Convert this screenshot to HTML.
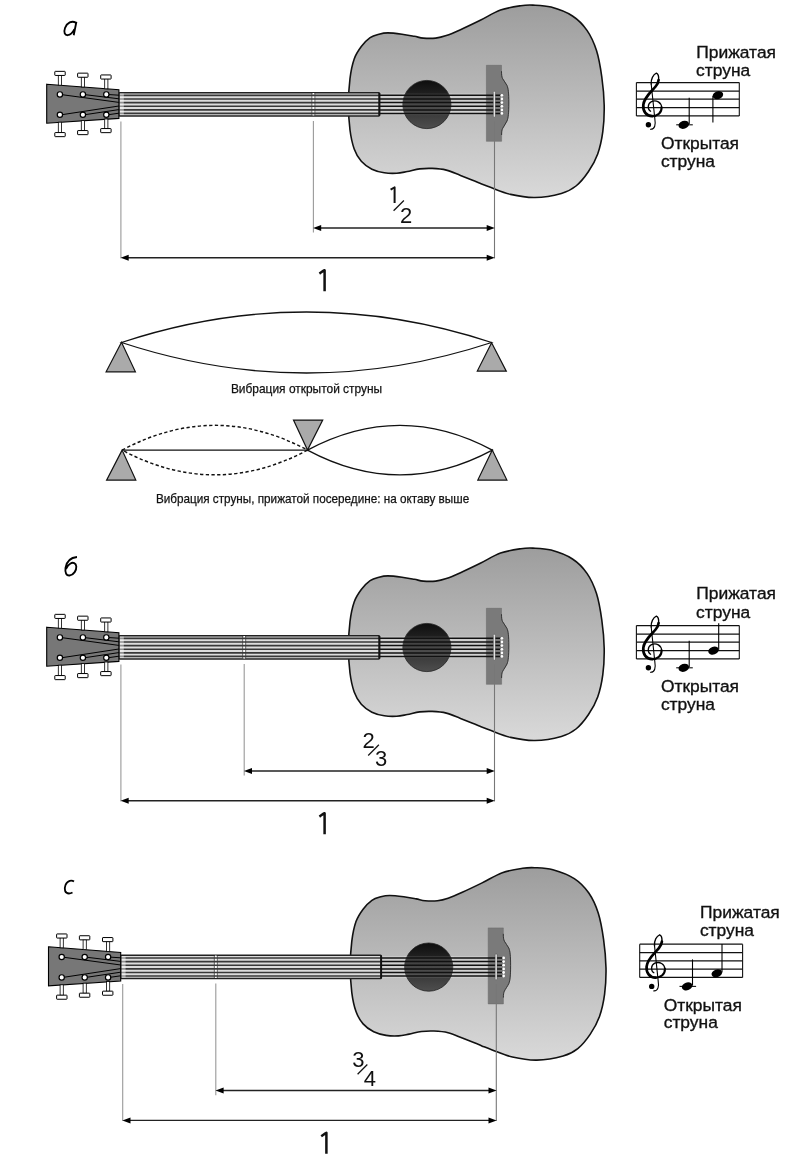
<!DOCTYPE html>
<html><head><meta charset="utf-8"><style>html,body{margin:0;padding:0;background:#fff;width:790px;height:1176px;overflow:hidden}</style></head>
<body>
<svg width="790" height="1176" viewBox="0 0 790 1176" style="display:block;will-change:transform" font-family="'Liberation Sans', sans-serif" fill="#111">
<defs>
<linearGradient id="bodyg" x1="0" y1="0" x2="0" y2="1">
<stop offset="0" stop-color="#9d9d9d"/><stop offset="1" stop-color="#d9d9d9"/>
</linearGradient>
<linearGradient id="holeg" x1="0" y1="0" x2="0" y2="1">
<stop offset="0" stop-color="#0e0e0e"/><stop offset="1" stop-color="#4e4e4e"/>
</linearGradient>
</defs>
<rect width="790" height="1176" fill="#fff"/>
<path d="M75.8 22.6 C72 20.5 67 22.5 65 28 C63.5 32.5 64.8 35.3 67.8 35.2 C70.5 35.1 72.8 32.5 74.4 29.2 M76.4 21.8 L73.7 35.2" fill="none" stroke="#000" stroke-width="1.85"/>
<path d="M77 557 C70 557.5 66.5 562 65.5 568 C64.8 573 66.5 575.8 69.5 575.5 C74 575 76.5 570 76.3 566.5 C76 563 73 562 70.5 563.5 C68 565 66.5 567 66 569" fill="none" stroke="#000" stroke-width="1.85"/>
<path d="M74 881.5 C72 880 67.5 880 65.5 885 C63.8 889.5 65 893.5 69 893.5 C70.5 893.5 71.5 893 72.5 892.5" fill="none" stroke="#000" stroke-width="1.85"/>
<g transform="translate(0 0)">
<path d="M 348.50 104.20 C 348.50 95.62 349.05 86.03 350.00 78.50 C 350.95 70.97 352.32 64.32 354.20 59.00 C 356.08 53.68 358.65 50.15 361.30 46.60 C 363.95 43.05 367.15 39.77 370.10 37.70 C 373.05 35.63 376.05 35.00 379.00 34.20 C 381.95 33.40 383.97 32.90 387.80 32.90 C 391.63 32.90 397.57 33.63 402.00 34.20 C 406.43 34.77 410.85 35.65 414.40 36.30 C 417.95 36.95 419.75 37.80 423.30 38.10 C 426.85 38.40 431.87 38.52 435.70 38.10 C 439.53 37.68 442.17 37.00 446.30 35.60 C 450.43 34.20 454.83 32.25 460.50 29.70 C 466.17 27.15 473.63 23.57 480.30 20.30 C 486.97 17.03 493.75 12.53 500.50 10.10 C 507.25 7.67 515.40 6.53 520.80 5.70 C 526.20 4.87 527.85 4.87 532.90 5.10 C 537.95 5.33 544.50 5.28 551.10 7.10 C 557.70 8.92 566.52 12.12 572.50 16.00 C 578.48 19.88 583.00 24.63 587.00 30.40 C 591.00 36.17 594.03 42.83 596.50 50.60 C 598.97 58.37 600.52 67.88 601.80 77.00 C 603.08 86.12 604.03 96.20 604.20 105.30 C 604.37 114.40 603.88 123.50 602.80 131.60 C 601.72 139.70 600.08 147.25 597.70 153.90 C 595.32 160.55 592.12 166.15 588.50 171.50 C 584.88 176.85 580.53 182.35 576.00 186.00 C 571.47 189.65 568.13 191.48 561.30 193.40 C 554.47 195.32 543.45 197.33 535.00 197.50 C 526.55 197.67 518.03 196.10 510.60 194.40 C 503.17 192.70 495.50 189.15 490.40 187.30 C 485.30 185.45 484.98 185.28 480.00 183.30 C 475.02 181.32 466.12 177.60 460.50 175.40 C 454.88 173.20 451.03 171.27 446.30 170.10 C 441.57 168.93 436.53 168.60 432.10 168.40 C 427.67 168.20 423.83 168.38 419.70 168.90 C 415.57 169.42 411.13 170.77 407.30 171.50 C 403.47 172.23 400.53 173.08 396.70 173.30 C 392.87 173.52 388.43 173.48 384.30 172.80 C 380.17 172.12 375.73 171.12 371.90 169.20 C 368.07 167.28 364.25 164.68 361.30 161.30 C 358.35 157.92 356.08 154.12 354.20 148.90 C 352.32 143.68 350.95 137.45 350.00 130.00 C 349.05 122.55 348.50 112.78 348.50 104.20 Z" fill="url(#bodyg)" stroke="#111" stroke-width="1.6"/>
<rect x="379" y="93.6" width="107.4" height="21.5" fill="#fff" fill-opacity="0.3"/>
<circle cx="426.9" cy="104.5" r="24.1" fill="url(#holeg)" stroke="#222" stroke-width="0.8"/>
<rect x="402" y="93.6" width="50" height="21.5" fill="#fff" fill-opacity="0.12"/>
<path d="M486.4 65.3 H501.5 V71.2 C501.5 75 501.8 77 502.6 78.6 C503.6 80.6 505.8 83 507 85.5 C508.3 88.5 508.8 93 508.8 103 C508.8 113 508.3 117.8 507 121 C505.8 123.5 503.6 126.5 502.6 128.5 C501.8 130 501.6 132 501.6 135 V141.3 H486.4 Z" fill="#7a7a7a" stroke="#666" stroke-width="0.5"/>
<path d="M501.5 71.2 C501.5 75 501.8 77 502.6 78.6 C503.6 80.6 505.8 83 507 85.5 C508.3 88.5 508.8 93 508.8 103 C508.8 113 508.3 117.8 507 121 C505.8 123.5 503.6 126.5 502.6 128.5 C501.8 130 501.6 132 501.6 135" fill="none" stroke="#222" stroke-width="0.8"/>
<line x1="379" y1="95.35" x2="501.7" y2="95.35" stroke="#111" stroke-width="1.5"/>
<line x1="379" y1="99.0" x2="501.7" y2="99.0" stroke="#111" stroke-width="1.5"/>
<line x1="379" y1="102.6" x2="501.7" y2="102.6" stroke="#111" stroke-width="1.5"/>
<line x1="379" y1="106.3" x2="501.7" y2="106.3" stroke="#111" stroke-width="1.5"/>
<line x1="379" y1="109.9" x2="501.7" y2="109.9" stroke="#111" stroke-width="1.5"/>
<line x1="379" y1="113.4" x2="501.7" y2="113.4" stroke="#111" stroke-width="1.5"/>
<rect x="493.4" y="91.3" width="1.8" height="25.9" rx="0.9" fill="#fff" stroke="#444" stroke-width="0.5"/>
<circle cx="501.8" cy="95.35" r="1.4" fill="#fff"/>
<circle cx="501.8" cy="99.0" r="1.4" fill="#fff"/>
<circle cx="501.8" cy="102.6" r="1.4" fill="#fff"/>
<circle cx="501.8" cy="106.3" r="1.4" fill="#fff"/>
<circle cx="501.8" cy="109.9" r="1.4" fill="#fff"/>
<circle cx="501.8" cy="113.4" r="1.4" fill="#fff"/>
<rect x="118.9" y="92.75" width="260.6" height="23.15" rx="0.8" fill="#dcdcdc" stroke="#222" stroke-width="1.5"/>
<line x1="311.9" y1="93" x2="311.9" y2="115.4" stroke="#333" stroke-width="0.7"/>
<line x1="314.9" y1="93" x2="314.9" y2="115.4" stroke="#333" stroke-width="0.7"/>
<line x1="313.4" y1="93" x2="313.4" y2="115.4" stroke="#fff" stroke-width="1.6"/>
<line x1="118.9" y1="95.35" x2="379.5" y2="95.35" stroke="#383838" stroke-width="1.6"/>
<line x1="118.9" y1="99.0" x2="379.5" y2="99.0" stroke="#383838" stroke-width="1.6"/>
<line x1="118.9" y1="102.6" x2="379.5" y2="102.6" stroke="#383838" stroke-width="1.6"/>
<line x1="118.9" y1="106.3" x2="379.5" y2="106.3" stroke="#383838" stroke-width="1.6"/>
<line x1="118.9" y1="109.9" x2="379.5" y2="109.9" stroke="#383838" stroke-width="1.6"/>
<line x1="118.9" y1="113.4" x2="379.5" y2="113.4" stroke="#383838" stroke-width="1.6"/>
<line x1="379.3" y1="92.9" x2="379.3" y2="115.7" stroke="#111" stroke-width="1.9"/>
<rect x="119.6" y="93.6" width="4.2" height="21.4" fill="#fff" fill-opacity="0.45"/>
<path d="M46.7 84.2 L118.9 89.8 L118.9 118.4 L46.7 123.2 Z" fill="#777" stroke="#000" stroke-width="1.1"/>
<path d="M59.9 94.4 L118.9 102.4 M82.9 94.4 L118.9 98.8 M106.3 94.4 L118.9 95.2 M59.9 115 L118.9 106 M82.9 115 L118.9 109.6 M106.3 115 L118.9 113.2" stroke="#000" stroke-width="1" fill="none"/>
<rect x="58.3" y="75.0" width="3.2" height="10.200000000000003" fill="#fff" stroke="#000" stroke-width="0.8"/>
<rect x="54.8" y="71.35" width="10.4" height="4.1" rx="0.5" fill="#fff" stroke="#000" stroke-width="1.0"/>
<rect x="58.3" y="122.2" width="3.2" height="10.499999999999986" fill="#fff" stroke="#000" stroke-width="0.8"/>
<rect x="54.8" y="132.54999999999998" width="10.4" height="4.1" rx="0.5" fill="#fff" stroke="#000" stroke-width="1.0"/>
<circle cx="59.9" cy="94.4" r="2.65" fill="#fff" stroke="#000" stroke-width="1.2"/>
<circle cx="59.9" cy="114.8" r="2.65" fill="#fff" stroke="#000" stroke-width="1.2"/>
<rect x="81.30000000000001" y="76.8" width="3.2" height="10.200000000000003" fill="#fff" stroke="#000" stroke-width="0.8"/>
<rect x="77.6" y="73.14999999999999" width="10.4" height="4.1" rx="0.5" fill="#fff" stroke="#000" stroke-width="1.0"/>
<rect x="81.30000000000001" y="120.6" width="3.2" height="10.099999999999994" fill="#fff" stroke="#000" stroke-width="0.8"/>
<rect x="77.6" y="130.54999999999998" width="10.4" height="4.1" rx="0.5" fill="#fff" stroke="#000" stroke-width="1.0"/>
<circle cx="82.9" cy="94.4" r="2.65" fill="#fff" stroke="#000" stroke-width="1.2"/>
<circle cx="82.9" cy="114.8" r="2.65" fill="#fff" stroke="#000" stroke-width="1.2"/>
<rect x="104.7" y="78.6" width="3.2" height="10.200000000000003" fill="#fff" stroke="#000" stroke-width="0.8"/>
<rect x="100.7" y="74.94999999999999" width="10.4" height="4.1" rx="0.5" fill="#fff" stroke="#000" stroke-width="1.0"/>
<rect x="104.7" y="119.0" width="3.2" height="9.699999999999989" fill="#fff" stroke="#000" stroke-width="0.8"/>
<rect x="100.7" y="128.54999999999998" width="10.4" height="4.1" rx="0.5" fill="#fff" stroke="#000" stroke-width="1.0"/>
<circle cx="106.3" cy="94.4" r="2.65" fill="#fff" stroke="#000" stroke-width="1.2"/>
<circle cx="106.3" cy="114.8" r="2.65" fill="#fff" stroke="#000" stroke-width="1.2"/>
<line x1="120.9" y1="121.4" x2="120.9" y2="258.5" stroke="#999" stroke-width="1.1"/>
<line x1="494.5" y1="121.5" x2="494.5" y2="258.5" stroke="#777" stroke-width="1.1"/>
<line x1="313.4" y1="121" x2="313.4" y2="232.6" stroke="#999" stroke-width="1.1"/>
<line x1="317.4" y1="227.9" x2="490.5" y2="227.9" stroke="#222" stroke-width="1.45"/>
<path d="M313.09999999999997 227.9 L321.2 224.9 L321.2 230.9 Z" fill="#000"/>
<path d="M494.8 227.9 L486.7 224.9 L486.7 230.9 Z" fill="#000"/>
<line x1="124.9" y1="257.8" x2="490.5" y2="257.8" stroke="#222" stroke-width="1.45"/>
<path d="M120.60000000000001 257.8 L128.70000000000002 254.8 L128.70000000000002 260.8 Z" fill="#000"/>
<path d="M494.8 257.8 L486.7 254.8 L486.7 260.8 Z" fill="#000"/>
<path d="M390.6 189.6 C392.3 188.6 393.2 188 394.6 187.4 V203" fill="none" stroke="#111" stroke-width="2" stroke-linejoin="round"/>
<text x="406.2" y="223" font-size="22" text-anchor="middle">2</text>
<line x1="393.6" y1="210.8" x2="403.9" y2="200.5" stroke="#111" stroke-width="1.25"/>
<path d="M319.4 273.6 C321.5 272.2 323 271 324.6 270.2 V291.2" fill="none" stroke="#111" stroke-width="2.5" stroke-linecap="butt" stroke-linejoin="round"/>
<g transform="translate(0 0)">
<line x1="636.4" y1="82.6" x2="739.3" y2="82.6" stroke="#111" stroke-width="1.25"/>
<line x1="636.4" y1="91.0" x2="739.3" y2="91.0" stroke="#111" stroke-width="1.25"/>
<line x1="636.4" y1="99.2" x2="739.3" y2="99.2" stroke="#111" stroke-width="1.25"/>
<line x1="636.4" y1="107.6" x2="739.3" y2="107.6" stroke="#111" stroke-width="1.25"/>
<line x1="636.4" y1="115.9" x2="739.3" y2="115.9" stroke="#111" stroke-width="1.25"/>
<line x1="636.4" y1="82.6" x2="636.4" y2="115.9" stroke="#111" stroke-width="1.1"/>
<line x1="739.3" y1="82.6" x2="739.3" y2="115.9" stroke="#111" stroke-width="1.1"/>
<g fill="none" stroke="#000" stroke-linecap="round"><path d="M650.6 111.2 C647.5 109.5 647.2 103.5 651.5 101.6 C656.5 99.6 661.3 102.5 661.6 107.3" stroke-width="1.3"/><path d="M661.6 107.3 C661.9 112.5 657.5 116.2 652.2 116.1" stroke-width="2.1"/><path d="M652.2 116.1 C646.2 116 642.8 111.2 643.3 105 C643.8 97.5 651.5 91.5 655.6 86.5 C657.5 84.2 658.4 82.5 658.6 80" stroke-width="2.7"/><path d="M658.6 80 C658.9 76.5 658 73.8 656.4 73.2 C653.2 74.5 650.8 79 651.2 84" stroke-width="1.4"/><path d="M651.2 84 L654.8 118.5 C655.8 124.5 655 129.5 650.5 129.3" stroke-width="1.1"/></g><circle cx="648.4" cy="124.8" r="2.7" fill="#000"/>
<line x1="676.2" y1="124.8" x2="692.8" y2="124.8" stroke="#111" stroke-width="1.1"/>
<ellipse cx="683.8" cy="124.8" rx="5.4" ry="3.9" transform="rotate(-18 683.8 124.8)" fill="#000"/>
<line x1="689.2" y1="97.8" x2="689.2" y2="124" stroke="#000" stroke-width="1.1"/>
<ellipse cx="717.9" cy="95.2" rx="5.4" ry="3.9" transform="rotate(-18 717.9 95.2)" fill="#000"/><line x1="712.9" y1="96" x2="712.9" y2="122.5" stroke="#000" stroke-width="1.1"/>
</g>
<text x="696.3" y="57.7" font-size="17.4" stroke="#111" stroke-width="0.35">Прижатая</text>
<text x="696.1" y="76.1" font-size="17.4" stroke="#111" stroke-width="0.35">струна</text>
<text x="660.9" y="149.4" font-size="17.4" stroke="#111" stroke-width="0.35">Открытая</text>
<text x="660.9" y="166.8" font-size="17.4" stroke="#111" stroke-width="0.35">струна</text>
</g>
<path d="M121.5 342.5 Q306.5 281.5 491.6 342.5 Q306.5 403.5 121.5 342.5 Z" fill="none" stroke="#111" stroke-width="1.3"/>
<path d="M121.5 342.3 L106.1 371.8 L135.4 371.8 Z" fill="#aaa" stroke="#111" stroke-width="1.2"/>
<path d="M491.6 342.7 L477.3 371.1 L506.3 371.1 Z" fill="#aaa" stroke="#111" stroke-width="1.2"/>
<text x="230.9" y="392.7" font-size="13.3" stroke="#111" stroke-width="0.25" textLength="151.3" lengthAdjust="spacingAndGlyphs">Вибрация открытой струны</text>
<path d="M122.1 450.1 Q215 400.6 307.5 450.1 Q215 499.6 122.1 450.1" fill="none" stroke="#111" stroke-width="1.45" stroke-dasharray="3.3 2.4"/>
<line x1="122.1" y1="450.1" x2="307.5" y2="450.1" stroke="#111" stroke-width="1.3"/>
<path d="M307.5 450.1 Q400 400.6 492.3 450.1 Q400 499.6 307.5 450.1" fill="none" stroke="#111" stroke-width="1.3"/>
<path d="M122.1 450.1 L106.6 480.1 L135.8 480.1 Z" fill="#aaa" stroke="#111" stroke-width="1.2"/>
<path d="M492.3 450.1 L477.8 480.1 L506.9 480.1 Z" fill="#aaa" stroke="#111" stroke-width="1.2"/>
<path d="M307.5 450.1 L293.5 420.1 L322.7 420.1 Z" fill="#aaa" stroke="#111" stroke-width="1.2"/>
<text x="155.9" y="503" font-size="13.3" stroke="#111" stroke-width="0.25" textLength="313.3" lengthAdjust="spacingAndGlyphs">Вибрация струны, прижатой посередине: на октаву выше</text>
<g transform="translate(0 543)">
<path d="M 348.50 104.20 C 348.50 95.62 349.05 86.03 350.00 78.50 C 350.95 70.97 352.32 64.32 354.20 59.00 C 356.08 53.68 358.65 50.15 361.30 46.60 C 363.95 43.05 367.15 39.77 370.10 37.70 C 373.05 35.63 376.05 35.00 379.00 34.20 C 381.95 33.40 383.97 32.90 387.80 32.90 C 391.63 32.90 397.57 33.63 402.00 34.20 C 406.43 34.77 410.85 35.65 414.40 36.30 C 417.95 36.95 419.75 37.80 423.30 38.10 C 426.85 38.40 431.87 38.52 435.70 38.10 C 439.53 37.68 442.17 37.00 446.30 35.60 C 450.43 34.20 454.83 32.25 460.50 29.70 C 466.17 27.15 473.63 23.57 480.30 20.30 C 486.97 17.03 493.75 12.53 500.50 10.10 C 507.25 7.67 515.40 6.53 520.80 5.70 C 526.20 4.87 527.85 4.87 532.90 5.10 C 537.95 5.33 544.50 5.28 551.10 7.10 C 557.70 8.92 566.52 12.12 572.50 16.00 C 578.48 19.88 583.00 24.63 587.00 30.40 C 591.00 36.17 594.03 42.83 596.50 50.60 C 598.97 58.37 600.52 67.88 601.80 77.00 C 603.08 86.12 604.03 96.20 604.20 105.30 C 604.37 114.40 603.88 123.50 602.80 131.60 C 601.72 139.70 600.08 147.25 597.70 153.90 C 595.32 160.55 592.12 166.15 588.50 171.50 C 584.88 176.85 580.53 182.35 576.00 186.00 C 571.47 189.65 568.13 191.48 561.30 193.40 C 554.47 195.32 543.45 197.33 535.00 197.50 C 526.55 197.67 518.03 196.10 510.60 194.40 C 503.17 192.70 495.50 189.15 490.40 187.30 C 485.30 185.45 484.98 185.28 480.00 183.30 C 475.02 181.32 466.12 177.60 460.50 175.40 C 454.88 173.20 451.03 171.27 446.30 170.10 C 441.57 168.93 436.53 168.60 432.10 168.40 C 427.67 168.20 423.83 168.38 419.70 168.90 C 415.57 169.42 411.13 170.77 407.30 171.50 C 403.47 172.23 400.53 173.08 396.70 173.30 C 392.87 173.52 388.43 173.48 384.30 172.80 C 380.17 172.12 375.73 171.12 371.90 169.20 C 368.07 167.28 364.25 164.68 361.30 161.30 C 358.35 157.92 356.08 154.12 354.20 148.90 C 352.32 143.68 350.95 137.45 350.00 130.00 C 349.05 122.55 348.50 112.78 348.50 104.20 Z" fill="url(#bodyg)" stroke="#111" stroke-width="1.6"/>
<rect x="379" y="93.6" width="107.4" height="21.5" fill="#fff" fill-opacity="0.3"/>
<circle cx="426.9" cy="104.5" r="24.1" fill="url(#holeg)" stroke="#222" stroke-width="0.8"/>
<rect x="402" y="93.6" width="50" height="21.5" fill="#fff" fill-opacity="0.12"/>
<path d="M486.4 65.3 H501.5 V71.2 C501.5 75 501.8 77 502.6 78.6 C503.6 80.6 505.8 83 507 85.5 C508.3 88.5 508.8 93 508.8 103 C508.8 113 508.3 117.8 507 121 C505.8 123.5 503.6 126.5 502.6 128.5 C501.8 130 501.6 132 501.6 135 V141.3 H486.4 Z" fill="#7a7a7a" stroke="#666" stroke-width="0.5"/>
<path d="M501.5 71.2 C501.5 75 501.8 77 502.6 78.6 C503.6 80.6 505.8 83 507 85.5 C508.3 88.5 508.8 93 508.8 103 C508.8 113 508.3 117.8 507 121 C505.8 123.5 503.6 126.5 502.6 128.5 C501.8 130 501.6 132 501.6 135" fill="none" stroke="#222" stroke-width="0.8"/>
<line x1="379" y1="95.35" x2="501.7" y2="95.35" stroke="#111" stroke-width="1.5"/>
<line x1="379" y1="99.0" x2="501.7" y2="99.0" stroke="#111" stroke-width="1.5"/>
<line x1="379" y1="102.6" x2="501.7" y2="102.6" stroke="#111" stroke-width="1.5"/>
<line x1="379" y1="106.3" x2="501.7" y2="106.3" stroke="#111" stroke-width="1.5"/>
<line x1="379" y1="109.9" x2="501.7" y2="109.9" stroke="#111" stroke-width="1.5"/>
<line x1="379" y1="113.4" x2="501.7" y2="113.4" stroke="#111" stroke-width="1.5"/>
<rect x="493.4" y="91.3" width="1.8" height="25.9" rx="0.9" fill="#fff" stroke="#444" stroke-width="0.5"/>
<circle cx="501.8" cy="95.35" r="1.4" fill="#fff"/>
<circle cx="501.8" cy="99.0" r="1.4" fill="#fff"/>
<circle cx="501.8" cy="102.6" r="1.4" fill="#fff"/>
<circle cx="501.8" cy="106.3" r="1.4" fill="#fff"/>
<circle cx="501.8" cy="109.9" r="1.4" fill="#fff"/>
<circle cx="501.8" cy="113.4" r="1.4" fill="#fff"/>
<rect x="118.9" y="92.75" width="260.6" height="23.15" rx="0.8" fill="#dcdcdc" stroke="#222" stroke-width="1.5"/>
<line x1="242.7" y1="93" x2="242.7" y2="115.4" stroke="#333" stroke-width="0.7"/>
<line x1="245.7" y1="93" x2="245.7" y2="115.4" stroke="#333" stroke-width="0.7"/>
<line x1="244.2" y1="93" x2="244.2" y2="115.4" stroke="#fff" stroke-width="1.6"/>
<line x1="118.9" y1="95.35" x2="379.5" y2="95.35" stroke="#383838" stroke-width="1.6"/>
<line x1="118.9" y1="99.0" x2="379.5" y2="99.0" stroke="#383838" stroke-width="1.6"/>
<line x1="118.9" y1="102.6" x2="379.5" y2="102.6" stroke="#383838" stroke-width="1.6"/>
<line x1="118.9" y1="106.3" x2="379.5" y2="106.3" stroke="#383838" stroke-width="1.6"/>
<line x1="118.9" y1="109.9" x2="379.5" y2="109.9" stroke="#383838" stroke-width="1.6"/>
<line x1="118.9" y1="113.4" x2="379.5" y2="113.4" stroke="#383838" stroke-width="1.6"/>
<line x1="379.3" y1="92.9" x2="379.3" y2="115.7" stroke="#111" stroke-width="1.9"/>
<rect x="119.6" y="93.6" width="4.2" height="21.4" fill="#fff" fill-opacity="0.45"/>
<path d="M46.7 84.2 L118.9 89.8 L118.9 118.4 L46.7 123.2 Z" fill="#777" stroke="#000" stroke-width="1.1"/>
<path d="M59.9 94.4 L118.9 102.4 M82.9 94.4 L118.9 98.8 M106.3 94.4 L118.9 95.2 M59.9 115 L118.9 106 M82.9 115 L118.9 109.6 M106.3 115 L118.9 113.2" stroke="#000" stroke-width="1" fill="none"/>
<rect x="58.3" y="75.0" width="3.2" height="10.200000000000003" fill="#fff" stroke="#000" stroke-width="0.8"/>
<rect x="54.8" y="71.35" width="10.4" height="4.1" rx="0.5" fill="#fff" stroke="#000" stroke-width="1.0"/>
<rect x="58.3" y="122.2" width="3.2" height="10.499999999999986" fill="#fff" stroke="#000" stroke-width="0.8"/>
<rect x="54.8" y="132.54999999999998" width="10.4" height="4.1" rx="0.5" fill="#fff" stroke="#000" stroke-width="1.0"/>
<circle cx="59.9" cy="94.4" r="2.65" fill="#fff" stroke="#000" stroke-width="1.2"/>
<circle cx="59.9" cy="114.8" r="2.65" fill="#fff" stroke="#000" stroke-width="1.2"/>
<rect x="81.30000000000001" y="76.8" width="3.2" height="10.200000000000003" fill="#fff" stroke="#000" stroke-width="0.8"/>
<rect x="77.6" y="73.14999999999999" width="10.4" height="4.1" rx="0.5" fill="#fff" stroke="#000" stroke-width="1.0"/>
<rect x="81.30000000000001" y="120.6" width="3.2" height="10.099999999999994" fill="#fff" stroke="#000" stroke-width="0.8"/>
<rect x="77.6" y="130.54999999999998" width="10.4" height="4.1" rx="0.5" fill="#fff" stroke="#000" stroke-width="1.0"/>
<circle cx="82.9" cy="94.4" r="2.65" fill="#fff" stroke="#000" stroke-width="1.2"/>
<circle cx="82.9" cy="114.8" r="2.65" fill="#fff" stroke="#000" stroke-width="1.2"/>
<rect x="104.7" y="78.6" width="3.2" height="10.200000000000003" fill="#fff" stroke="#000" stroke-width="0.8"/>
<rect x="100.7" y="74.94999999999999" width="10.4" height="4.1" rx="0.5" fill="#fff" stroke="#000" stroke-width="1.0"/>
<rect x="104.7" y="119.0" width="3.2" height="9.699999999999989" fill="#fff" stroke="#000" stroke-width="0.8"/>
<rect x="100.7" y="128.54999999999998" width="10.4" height="4.1" rx="0.5" fill="#fff" stroke="#000" stroke-width="1.0"/>
<circle cx="106.3" cy="94.4" r="2.65" fill="#fff" stroke="#000" stroke-width="1.2"/>
<circle cx="106.3" cy="114.8" r="2.65" fill="#fff" stroke="#000" stroke-width="1.2"/>
<line x1="120.9" y1="121.4" x2="120.9" y2="258.5" stroke="#999" stroke-width="1.1"/>
<line x1="494.5" y1="121.5" x2="494.5" y2="258.5" stroke="#777" stroke-width="1.1"/>
<line x1="244.2" y1="121" x2="244.2" y2="232.6" stroke="#999" stroke-width="1.1"/>
<line x1="248.2" y1="227.9" x2="490.5" y2="227.9" stroke="#222" stroke-width="1.45"/>
<path d="M243.89999999999998 227.9 L252.0 224.9 L252.0 230.9 Z" fill="#000"/>
<path d="M494.8 227.9 L486.7 224.9 L486.7 230.9 Z" fill="#000"/>
<line x1="124.9" y1="257.8" x2="490.5" y2="257.8" stroke="#222" stroke-width="1.45"/>
<path d="M120.60000000000001 257.8 L128.70000000000002 254.8 L128.70000000000002 260.8 Z" fill="#000"/>
<path d="M494.8 257.8 L486.7 254.8 L486.7 260.8 Z" fill="#000"/>
<text x="368.5" y="204.5" font-size="22" text-anchor="middle">2</text>
<text x="381.2" y="223" font-size="22" text-anchor="middle">3</text>
<line x1="368.2" y1="212.5" x2="378.9" y2="201.8" stroke="#111" stroke-width="1.25"/>
<path d="M319.4 273.6 C321.5 272.2 323 271 324.6 270.2 V291.2" fill="none" stroke="#111" stroke-width="2.5" stroke-linecap="butt" stroke-linejoin="round"/>
<g transform="translate(0 0)">
<line x1="636.4" y1="82.6" x2="739.3" y2="82.6" stroke="#111" stroke-width="1.25"/>
<line x1="636.4" y1="91.0" x2="739.3" y2="91.0" stroke="#111" stroke-width="1.25"/>
<line x1="636.4" y1="99.2" x2="739.3" y2="99.2" stroke="#111" stroke-width="1.25"/>
<line x1="636.4" y1="107.6" x2="739.3" y2="107.6" stroke="#111" stroke-width="1.25"/>
<line x1="636.4" y1="115.9" x2="739.3" y2="115.9" stroke="#111" stroke-width="1.25"/>
<line x1="636.4" y1="82.6" x2="636.4" y2="115.9" stroke="#111" stroke-width="1.1"/>
<line x1="739.3" y1="82.6" x2="739.3" y2="115.9" stroke="#111" stroke-width="1.1"/>
<g fill="none" stroke="#000" stroke-linecap="round"><path d="M650.6 111.2 C647.5 109.5 647.2 103.5 651.5 101.6 C656.5 99.6 661.3 102.5 661.6 107.3" stroke-width="1.3"/><path d="M661.6 107.3 C661.9 112.5 657.5 116.2 652.2 116.1" stroke-width="2.1"/><path d="M652.2 116.1 C646.2 116 642.8 111.2 643.3 105 C643.8 97.5 651.5 91.5 655.6 86.5 C657.5 84.2 658.4 82.5 658.6 80" stroke-width="2.7"/><path d="M658.6 80 C658.9 76.5 658 73.8 656.4 73.2 C653.2 74.5 650.8 79 651.2 84" stroke-width="1.4"/><path d="M651.2 84 L654.8 118.5 C655.8 124.5 655 129.5 650.5 129.3" stroke-width="1.1"/></g><circle cx="648.4" cy="124.8" r="2.7" fill="#000"/>
<line x1="676.2" y1="124.8" x2="692.8" y2="124.8" stroke="#111" stroke-width="1.1"/>
<ellipse cx="683.8" cy="124.8" rx="5.4" ry="3.9" transform="rotate(-18 683.8 124.8)" fill="#000"/>
<line x1="689.2" y1="97.8" x2="689.2" y2="124" stroke="#000" stroke-width="1.1"/>
<ellipse cx="713.5" cy="107.6" rx="5.4" ry="3.9" transform="rotate(-18 713.5 107.6)" fill="#000"/><line x1="718.7" y1="80.3" x2="718.7" y2="106.8" stroke="#000" stroke-width="1.1"/>
</g>
<text x="696.3" y="56.2" font-size="17.4" stroke="#111" stroke-width="0.35">Прижатая</text>
<text x="696.1" y="74.6" font-size="17.4" stroke="#111" stroke-width="0.35">струна</text>
<text x="660.9" y="149.4" font-size="17.4" stroke="#111" stroke-width="0.35">Открытая</text>
<text x="660.9" y="166.8" font-size="17.4" stroke="#111" stroke-width="0.35">струна</text>
</g>
<g transform="translate(1.8 862.6)">
<path d="M 348.50 104.20 C 348.50 95.62 349.05 86.03 350.00 78.50 C 350.95 70.97 352.32 64.32 354.20 59.00 C 356.08 53.68 358.65 50.15 361.30 46.60 C 363.95 43.05 367.15 39.77 370.10 37.70 C 373.05 35.63 376.05 35.00 379.00 34.20 C 381.95 33.40 383.97 32.90 387.80 32.90 C 391.63 32.90 397.57 33.63 402.00 34.20 C 406.43 34.77 410.85 35.65 414.40 36.30 C 417.95 36.95 419.75 37.80 423.30 38.10 C 426.85 38.40 431.87 38.52 435.70 38.10 C 439.53 37.68 442.17 37.00 446.30 35.60 C 450.43 34.20 454.83 32.25 460.50 29.70 C 466.17 27.15 473.63 23.57 480.30 20.30 C 486.97 17.03 493.75 12.53 500.50 10.10 C 507.25 7.67 515.40 6.53 520.80 5.70 C 526.20 4.87 527.85 4.87 532.90 5.10 C 537.95 5.33 544.50 5.28 551.10 7.10 C 557.70 8.92 566.52 12.12 572.50 16.00 C 578.48 19.88 583.00 24.63 587.00 30.40 C 591.00 36.17 594.03 42.83 596.50 50.60 C 598.97 58.37 600.52 67.88 601.80 77.00 C 603.08 86.12 604.03 96.20 604.20 105.30 C 604.37 114.40 603.88 123.50 602.80 131.60 C 601.72 139.70 600.08 147.25 597.70 153.90 C 595.32 160.55 592.12 166.15 588.50 171.50 C 584.88 176.85 580.53 182.35 576.00 186.00 C 571.47 189.65 568.13 191.48 561.30 193.40 C 554.47 195.32 543.45 197.33 535.00 197.50 C 526.55 197.67 518.03 196.10 510.60 194.40 C 503.17 192.70 495.50 189.15 490.40 187.30 C 485.30 185.45 484.98 185.28 480.00 183.30 C 475.02 181.32 466.12 177.60 460.50 175.40 C 454.88 173.20 451.03 171.27 446.30 170.10 C 441.57 168.93 436.53 168.60 432.10 168.40 C 427.67 168.20 423.83 168.38 419.70 168.90 C 415.57 169.42 411.13 170.77 407.30 171.50 C 403.47 172.23 400.53 173.08 396.70 173.30 C 392.87 173.52 388.43 173.48 384.30 172.80 C 380.17 172.12 375.73 171.12 371.90 169.20 C 368.07 167.28 364.25 164.68 361.30 161.30 C 358.35 157.92 356.08 154.12 354.20 148.90 C 352.32 143.68 350.95 137.45 350.00 130.00 C 349.05 122.55 348.50 112.78 348.50 104.20 Z" fill="url(#bodyg)" stroke="#111" stroke-width="1.6"/>
<rect x="379" y="93.6" width="107.4" height="21.5" fill="#fff" fill-opacity="0.3"/>
<circle cx="426.9" cy="104.5" r="24.1" fill="url(#holeg)" stroke="#222" stroke-width="0.8"/>
<rect x="402" y="93.6" width="50" height="21.5" fill="#fff" fill-opacity="0.12"/>
<path d="M486.4 65.3 H501.5 V71.2 C501.5 75 501.8 77 502.6 78.6 C503.6 80.6 505.8 83 507 85.5 C508.3 88.5 508.8 93 508.8 103 C508.8 113 508.3 117.8 507 121 C505.8 123.5 503.6 126.5 502.6 128.5 C501.8 130 501.6 132 501.6 135 V141.3 H486.4 Z" fill="#7a7a7a" stroke="#666" stroke-width="0.5"/>
<path d="M501.5 71.2 C501.5 75 501.8 77 502.6 78.6 C503.6 80.6 505.8 83 507 85.5 C508.3 88.5 508.8 93 508.8 103 C508.8 113 508.3 117.8 507 121 C505.8 123.5 503.6 126.5 502.6 128.5 C501.8 130 501.6 132 501.6 135" fill="none" stroke="#222" stroke-width="0.8"/>
<line x1="379" y1="95.35" x2="501.7" y2="95.35" stroke="#111" stroke-width="1.5"/>
<line x1="379" y1="99.0" x2="501.7" y2="99.0" stroke="#111" stroke-width="1.5"/>
<line x1="379" y1="102.6" x2="501.7" y2="102.6" stroke="#111" stroke-width="1.5"/>
<line x1="379" y1="106.3" x2="501.7" y2="106.3" stroke="#111" stroke-width="1.5"/>
<line x1="379" y1="109.9" x2="501.7" y2="109.9" stroke="#111" stroke-width="1.5"/>
<line x1="379" y1="113.4" x2="501.7" y2="113.4" stroke="#111" stroke-width="1.5"/>
<rect x="493.4" y="91.3" width="1.8" height="25.9" rx="0.9" fill="#fff" stroke="#444" stroke-width="0.5"/>
<circle cx="501.8" cy="95.35" r="1.4" fill="#fff"/>
<circle cx="501.8" cy="99.0" r="1.4" fill="#fff"/>
<circle cx="501.8" cy="102.6" r="1.4" fill="#fff"/>
<circle cx="501.8" cy="106.3" r="1.4" fill="#fff"/>
<circle cx="501.8" cy="109.9" r="1.4" fill="#fff"/>
<circle cx="501.8" cy="113.4" r="1.4" fill="#fff"/>
<rect x="118.9" y="92.75" width="260.6" height="23.15" rx="0.8" fill="#dcdcdc" stroke="#222" stroke-width="1.5"/>
<line x1="212.5" y1="93" x2="212.5" y2="115.4" stroke="#333" stroke-width="0.7"/>
<line x1="215.5" y1="93" x2="215.5" y2="115.4" stroke="#333" stroke-width="0.7"/>
<line x1="214.0" y1="93" x2="214.0" y2="115.4" stroke="#fff" stroke-width="1.6"/>
<line x1="118.9" y1="95.35" x2="379.5" y2="95.35" stroke="#383838" stroke-width="1.6"/>
<line x1="118.9" y1="99.0" x2="379.5" y2="99.0" stroke="#383838" stroke-width="1.6"/>
<line x1="118.9" y1="102.6" x2="379.5" y2="102.6" stroke="#383838" stroke-width="1.6"/>
<line x1="118.9" y1="106.3" x2="379.5" y2="106.3" stroke="#383838" stroke-width="1.6"/>
<line x1="118.9" y1="109.9" x2="379.5" y2="109.9" stroke="#383838" stroke-width="1.6"/>
<line x1="118.9" y1="113.4" x2="379.5" y2="113.4" stroke="#383838" stroke-width="1.6"/>
<line x1="379.3" y1="92.9" x2="379.3" y2="115.7" stroke="#111" stroke-width="1.9"/>
<rect x="119.6" y="93.6" width="4.2" height="21.4" fill="#fff" fill-opacity="0.45"/>
<path d="M46.7 84.2 L118.9 89.8 L118.9 118.4 L46.7 123.2 Z" fill="#777" stroke="#000" stroke-width="1.1"/>
<path d="M59.9 94.4 L118.9 102.4 M82.9 94.4 L118.9 98.8 M106.3 94.4 L118.9 95.2 M59.9 115 L118.9 106 M82.9 115 L118.9 109.6 M106.3 115 L118.9 113.2" stroke="#000" stroke-width="1" fill="none"/>
<rect x="58.3" y="75.0" width="3.2" height="10.200000000000003" fill="#fff" stroke="#000" stroke-width="0.8"/>
<rect x="54.8" y="71.35" width="10.4" height="4.1" rx="0.5" fill="#fff" stroke="#000" stroke-width="1.0"/>
<rect x="58.3" y="122.2" width="3.2" height="10.499999999999986" fill="#fff" stroke="#000" stroke-width="0.8"/>
<rect x="54.8" y="132.54999999999998" width="10.4" height="4.1" rx="0.5" fill="#fff" stroke="#000" stroke-width="1.0"/>
<circle cx="59.9" cy="94.4" r="2.65" fill="#fff" stroke="#000" stroke-width="1.2"/>
<circle cx="59.9" cy="114.8" r="2.65" fill="#fff" stroke="#000" stroke-width="1.2"/>
<rect x="81.30000000000001" y="76.8" width="3.2" height="10.200000000000003" fill="#fff" stroke="#000" stroke-width="0.8"/>
<rect x="77.6" y="73.14999999999999" width="10.4" height="4.1" rx="0.5" fill="#fff" stroke="#000" stroke-width="1.0"/>
<rect x="81.30000000000001" y="120.6" width="3.2" height="10.099999999999994" fill="#fff" stroke="#000" stroke-width="0.8"/>
<rect x="77.6" y="130.54999999999998" width="10.4" height="4.1" rx="0.5" fill="#fff" stroke="#000" stroke-width="1.0"/>
<circle cx="82.9" cy="94.4" r="2.65" fill="#fff" stroke="#000" stroke-width="1.2"/>
<circle cx="82.9" cy="114.8" r="2.65" fill="#fff" stroke="#000" stroke-width="1.2"/>
<rect x="104.7" y="78.6" width="3.2" height="10.200000000000003" fill="#fff" stroke="#000" stroke-width="0.8"/>
<rect x="100.7" y="74.94999999999999" width="10.4" height="4.1" rx="0.5" fill="#fff" stroke="#000" stroke-width="1.0"/>
<rect x="104.7" y="119.0" width="3.2" height="9.699999999999989" fill="#fff" stroke="#000" stroke-width="0.8"/>
<rect x="100.7" y="128.54999999999998" width="10.4" height="4.1" rx="0.5" fill="#fff" stroke="#000" stroke-width="1.0"/>
<circle cx="106.3" cy="94.4" r="2.65" fill="#fff" stroke="#000" stroke-width="1.2"/>
<circle cx="106.3" cy="114.8" r="2.65" fill="#fff" stroke="#000" stroke-width="1.2"/>
<line x1="120.9" y1="121.4" x2="120.9" y2="258.5" stroke="#999" stroke-width="1.1"/>
<line x1="494.5" y1="121.5" x2="494.5" y2="258.5" stroke="#777" stroke-width="1.1"/>
<line x1="214.0" y1="121" x2="214.0" y2="232.6" stroke="#999" stroke-width="1.1"/>
<line x1="218.0" y1="227.9" x2="490.5" y2="227.9" stroke="#222" stroke-width="1.45"/>
<path d="M213.7 227.9 L221.8 224.9 L221.8 230.9 Z" fill="#000"/>
<path d="M494.8 227.9 L486.7 224.9 L486.7 230.9 Z" fill="#000"/>
<line x1="124.9" y1="257.8" x2="490.5" y2="257.8" stroke="#222" stroke-width="1.45"/>
<path d="M120.60000000000001 257.8 L128.70000000000002 254.8 L128.70000000000002 260.8 Z" fill="#000"/>
<path d="M494.8 257.8 L486.7 254.8 L486.7 260.8 Z" fill="#000"/>
<text x="356.6" y="204.5" font-size="22" text-anchor="middle">3</text>
<text x="368.1" y="223" font-size="22" text-anchor="middle">4</text>
<line x1="355.8" y1="211.6" x2="365.5" y2="201.9" stroke="#111" stroke-width="1.25"/>
<path d="M319.4 273.6 C321.5 272.2 323 271 324.6 270.2 V291.2" fill="none" stroke="#111" stroke-width="2.5" stroke-linecap="butt" stroke-linejoin="round"/>
<g transform="translate(1.5 -1)">
<line x1="636.4" y1="82.6" x2="739.3" y2="82.6" stroke="#111" stroke-width="1.25"/>
<line x1="636.4" y1="91.0" x2="739.3" y2="91.0" stroke="#111" stroke-width="1.25"/>
<line x1="636.4" y1="99.2" x2="739.3" y2="99.2" stroke="#111" stroke-width="1.25"/>
<line x1="636.4" y1="107.6" x2="739.3" y2="107.6" stroke="#111" stroke-width="1.25"/>
<line x1="636.4" y1="115.9" x2="739.3" y2="115.9" stroke="#111" stroke-width="1.25"/>
<line x1="636.4" y1="82.6" x2="636.4" y2="115.9" stroke="#111" stroke-width="1.1"/>
<line x1="739.3" y1="82.6" x2="739.3" y2="115.9" stroke="#111" stroke-width="1.1"/>
<g fill="none" stroke="#000" stroke-linecap="round"><path d="M650.6 111.2 C647.5 109.5 647.2 103.5 651.5 101.6 C656.5 99.6 661.3 102.5 661.6 107.3" stroke-width="1.3"/><path d="M661.6 107.3 C661.9 112.5 657.5 116.2 652.2 116.1" stroke-width="2.1"/><path d="M652.2 116.1 C646.2 116 642.8 111.2 643.3 105 C643.8 97.5 651.5 91.5 655.6 86.5 C657.5 84.2 658.4 82.5 658.6 80" stroke-width="2.7"/><path d="M658.6 80 C658.9 76.5 658 73.8 656.4 73.2 C653.2 74.5 650.8 79 651.2 84" stroke-width="1.4"/><path d="M651.2 84 L654.8 118.5 C655.8 124.5 655 129.5 650.5 129.3" stroke-width="1.1"/></g><circle cx="648.4" cy="124.8" r="2.7" fill="#000"/>
<line x1="676.2" y1="124.8" x2="692.8" y2="124.8" stroke="#111" stroke-width="1.1"/>
<ellipse cx="683.8" cy="124.8" rx="5.4" ry="3.9" transform="rotate(-18 683.8 124.8)" fill="#000"/>
<line x1="689.2" y1="97.8" x2="689.2" y2="124" stroke="#000" stroke-width="1.1"/>
<ellipse cx="713.5" cy="111.8" rx="5.4" ry="3.9" transform="rotate(-18 713.5 111.8)" fill="#000"/><line x1="718.7" y1="82.5" x2="718.7" y2="111" stroke="#000" stroke-width="1.1"/>
</g>
<text x="698.3" y="55.0" font-size="17.4" stroke="#111" stroke-width="0.35">Прижатая</text>
<text x="698.1" y="73.39999999999999" font-size="17.4" stroke="#111" stroke-width="0.35">струна</text>
<text x="661.9" y="148.4" font-size="17.4" stroke="#111" stroke-width="0.35">Открытая</text>
<text x="661.9" y="165.8" font-size="17.4" stroke="#111" stroke-width="0.35">струна</text>
</g>
</svg>
</body></html>
